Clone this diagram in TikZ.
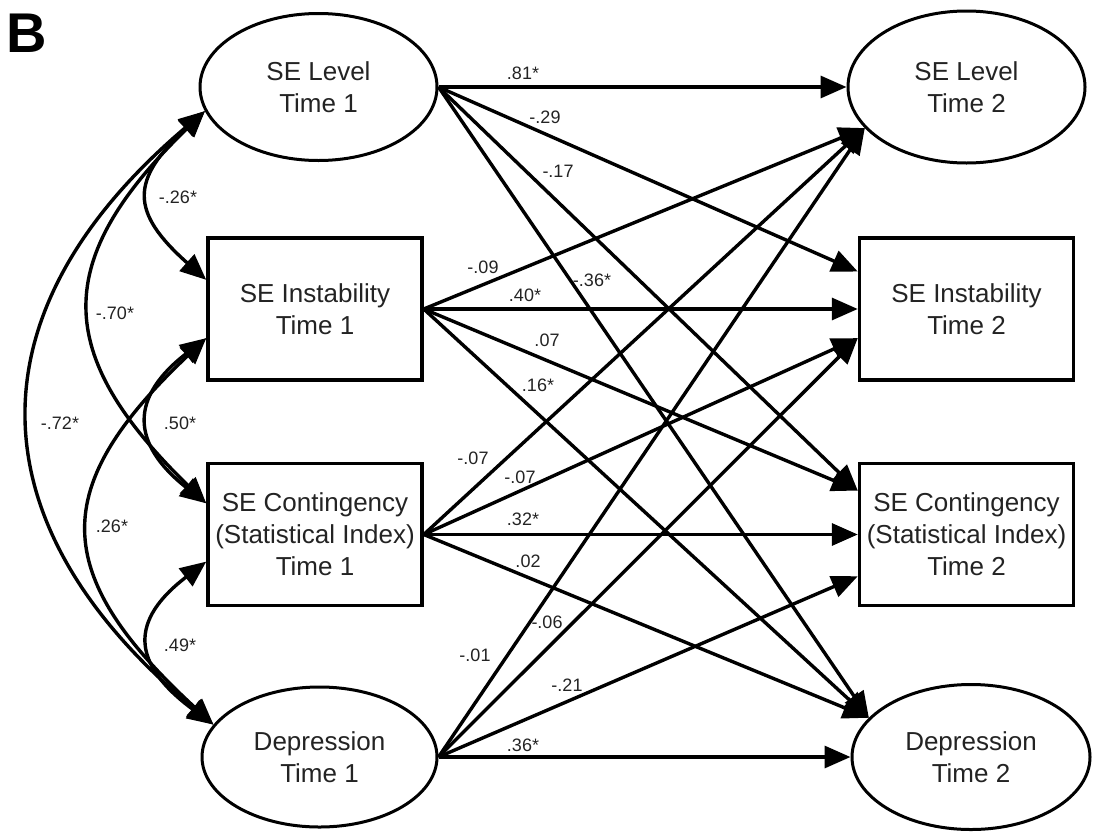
\documentclass[tikz,border=0pt]{standalone}
\usepackage{fontspec}
\setmainfont{Liberation Sans}
\usetikzlibrary{arrows.meta,shapes.geometric}
\definecolor{txt}{RGB}{35,35,35}
\newcommand{\mynodefont}{\fontsize{26}{32}\selectfont}
\newcommand{\mycoeffont}{\fontsize{18}{22}\selectfont}
\begin{document}
\begin{tikzpicture}[x=1pt,y=-1pt,
  latent/.style={ellipse,draw,line width=3pt,inner sep=0pt,align=center,font=\mynodefont,text=txt},
  observed/.style={rectangle,draw,line width=3.5pt,inner sep=0pt,minimum width=214pt,minimum height=142pt,align=center,font=\mynodefont,text=txt},
  regarrow/.style={line width=3.4pt,-{Triangle[length=26pt,width=22pt]}},
  covarrow/.style={line width=3.4pt,{Triangle[length=26pt,width=22pt]}-{Triangle[length=26pt,width=22pt]}},
  coef/.style={font=\mycoeffont,text=txt,inner sep=0pt}
]
\useasboundingbox (0,0) rectangle (1094,835);

\node[font=\fontsize{56}{56}\selectfont\bfseries,inner sep=0pt] (B) at (27,33) {B};

% nodes
\node[latent,minimum width=237pt,minimum height=147pt] (L1) at (318.5,87) {SE Level\\Time 1};
\node[observed] (I1) at (315,309) {SE Instability\\Time 1};
\node[observed] (C1) at (315,534.5) {SE Contingency\\(Statistical Index)\\Time 1};
\node[latent,minimum width=235pt,minimum height=140pt] (D1) at (319.5,757) {Depression\\Time 1};
\node[latent,minimum width=237pt,minimum height=152pt] (L2) at (966.5,87) {SE Level\\Time 2};
\node[observed] (I2) at (966.5,309) {SE Instability\\Time 2};
\node[observed] (C2) at (966.5,534.5) {SE Contingency\\(Statistical Index)\\Time 2};
\node[latent,minimum width=238pt,minimum height=145pt] (D2) at (971,757) {Depression\\Time 2};

% regression paths
\draw[regarrow] (L1.east) -- (L2.west);
\draw[regarrow] (L1.east) -- (I2.161);
\draw[regarrow] (L1.east) -- (C2.158);
\draw[regarrow] (L1.east) -- (D2.159);
\draw[regarrow] (I1.east) -- (L2.202);
\draw[regarrow] (I1.east) -- (I2.west);
\draw[regarrow] (I1.east) -- (C2.158);
\draw[regarrow] (I1.east) -- (D2.159);
\draw[regarrow] (C1.east) -- (L2.202);
\draw[regarrow] (C1.east) -- (I2.195);
\draw[regarrow] (C1.east) -- (C2.west);
\draw[regarrow] (C1.east) -- (D2.159);
\draw[regarrow] (D1.east) -- (L2.202);
\draw[regarrow] (D1.east) -- (I2.195);
\draw[regarrow] (D1.east) -- (C2.201);
\draw[regarrow] (D1.east) -- (D2.west);

% covariances
\draw[covarrow] (L1.192) .. controls (130,180) and (130,212) .. (I1.165);
\draw[covarrow] (L1.192) .. controls (52,260) and (52,353) .. (C1.164);
\draw[covarrow] (L1.192) .. controls (-30,310) and (-30,523) .. (D1.163);
\draw[covarrow] (I1.195) .. controls (130,397) and (130,443) .. (C1.164);
\draw[covarrow] (I1.195) .. controls (49,487) and (49,573) .. (D1.163);
\draw[covarrow] (C1.194) .. controls (130,620) and (130,663) .. (D1.163);

% covariance labels
\node[coef] (k1) at (178,197) {-.26*};
\node[coef] (k2) at (115,313) {-.70*};
\node[coef] (k3) at (60,423) {-.72*};
\node[coef] (k4) at (180,423) {.50*};
\node[coef] (k5) at (112,526) {.26*};
\node[coef] (k6) at (180,645) {.49*};

% path labels
\node[coef] (p1) at (523,73) {.81*};
\node[coef] (p2) at (545,117) {-.29};
\node[coef] (p3) at (558,171) {-.17};
\node[coef] (p4) at (592,280) {-.36*};
\node[coef] (p5) at (483,267) {-.09};
\node[coef] (p6) at (525,295) {.40*};
\node[coef] (p7) at (547,340) {.07};
\node[coef] (p8) at (538,385) {.16*};
\node[coef] (p9) at (473,458) {-.07};
\node[coef] (p10) at (520,477) {-.07};
\node[coef] (p11) at (523,519) {.32*};
\node[coef] (p12) at (528,561) {.02};
\node[coef] (p13) at (475,655) {-.01};
\node[coef] (p14) at (547,622) {-.06};
\node[coef] (p15) at (567,685) {-.21};
\node[coef] (p16) at (523,745) {.36*};
\end{tikzpicture}
\end{document}
